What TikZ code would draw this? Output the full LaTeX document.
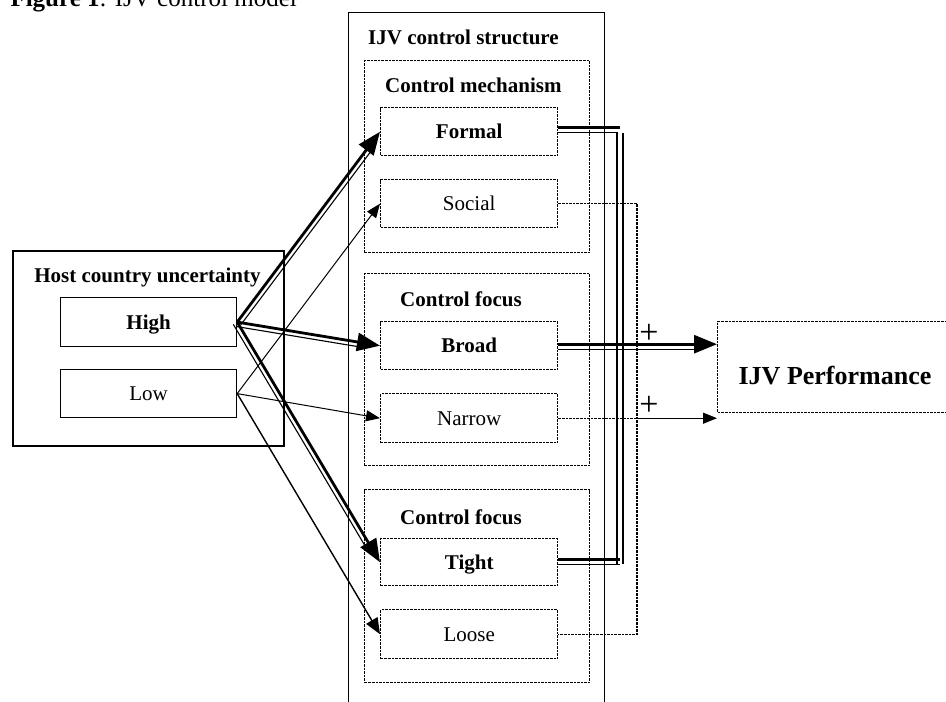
\documentclass[tikz,border=0pt]{standalone}
\usepackage{fontspec}
\setmainfont{Liberation Serif}
\usetikzlibrary{arrows.meta,calc}
\begin{document}
\begin{tikzpicture}[x=1pt,y=-1pt,
  box/.style={draw, line width=1.2pt, rectangle, inner sep=0pt, anchor=north west},
  dbox/.style={box, line width=1.4pt, dash pattern=on 2.6pt off 1pt},
  txt/.style={font=\fontsize{21}{24}\selectfont, text height=16pt, text depth=2pt},
  btxt/.style={font=\fontsize{21}{24}\selectfont\bfseries, text height=16pt, text depth=2pt},
  lbl/.style={inner sep=0pt, font=\fontsize{21}{24}\selectfont\bfseries},
  bigtip/.style={-{Triangle[length=23pt,width=18pt]}},
  smalltip/.style={-{Triangle[length=14pt,width=11pt]}},
  thickln/.style={line width=2.8pt},
  thinln/.style={line width=1.1pt},
  dln/.style={line width=1.4pt, dash pattern=on 2.6pt off 1pt}
]
\useasboundingbox (0,0) rectangle (946,702);
\clip (0,0) rectangle (946,702);

% title
\node[anchor=base east, inner sep=0pt, font=\fontsize{25}{28}\selectfont] (title) at (297,6) {\textbf{Figure 1}: IJV control model};

% IJV control structure
\node[box, minimum width=256pt, minimum height=730pt] (outer) at (348,12) {};
\node[lbl, anchor=base west] (outerl) at (368,44) {IJV control structure};

\node[dbox, minimum width=225pt, minimum height=192pt] (mech) at (364,60) {};
\node[lbl, anchor=base west] (mechl) at (385,92) {Control mechanism};
\node[dbox, btxt, minimum width=177pt, minimum height=48pt] (formal) at (380,107) {Formal};
\node[dbox, txt, minimum width=177pt, minimum height=48pt] (social) at (380,179) {Social};

\node[dbox, minimum width=225pt, minimum height=192pt] (focusA) at (364,273) {};
\node[lbl, anchor=base west] (focusAl) at (400,306) {Control focus};
\node[dbox, btxt, minimum width=177pt, minimum height=48pt] (broad) at (380,321) {Broad};
\node[dbox, txt, minimum width=177pt, minimum height=49pt] (narrow) at (380,393) {Narrow};

\node[dbox, minimum width=225pt, minimum height=193pt] (focusB) at (364,489) {};
\node[lbl, anchor=base west] (focusBl) at (400,524) {Control focus};
\node[dbox, btxt, minimum width=177pt, minimum height=47pt] (tight) at (380,538) {Tight};
\node[dbox, txt, minimum width=177pt, minimum height=49pt] (loose) at (380,609) {Loose};

% host country uncertainty
\node[box, line width=1.5pt, minimum width=271pt, minimum height=195pt] (host) at (12,250) {};
\node[lbl, anchor=base] (hostl) at (147.5,282) {Host country uncertainty};
\node[box, btxt, minimum width=176pt, minimum height=49pt] (high) at (60,297) {High};
\node[box, txt, minimum width=176pt, minimum height=48pt] (low) at (60,369) {Low};

% performance
\node[dbox, minimum width=260pt, minimum height=91pt] (perf) at (717,321) {};
\node[inner sep=0pt, font=\fontsize{26}{30}\selectfont\bfseries] (perfl) at (835,376) {IJV Performance};

% High -> double arrows
\foreach \t in {formal,broad,tight}{
  \draw[thickln, bigtip] (high.east) -- (\t.west);
  \draw[thinln, shorten >=18pt] ($(high.east)!4.5pt!-90:(\t.west)$) -- ($(\t.west)!4.5pt!90:(high.east)$);
}

% Low -> thin arrows
\draw[line width=1pt, smalltip] (low.east) -- (social.west);
\draw[line width=1pt, smalltip] (low.east) -- (narrow.west);
\draw[line width=1.4pt, -{Triangle[length=16pt,width=13pt]}] (low.east) -- (loose.west);

% right side bus
\coordinate (busL) at (617,0);
\coordinate (busR) at (623,0);
\coordinate (dashx) at (637,0);

\draw[thickln] ($(formal.east)+(0,-4)$) -- ($(formal.east -| busR)+(-3,-4)$);
\draw[thinln] ($(formal.east)+(0,1)$) -- ($(formal.east -| busL)+(1,1)$);
\draw[thickln] ($(tight.east)+(0,-2.5)$) -- ($(tight.east -| busR)+(-3,-2.5)$);
\draw[thinln] ($(tight.east)+(0,2.5)$) -- ($(tight.east -| busR)+(-3,2.5)$);
\draw[thinln] ($(formal.east -| busL)+(0,1)$) -- ($(tight.east -| busL)+(0,2.5)$);
\draw[thinln] ($(formal.east -| busR)+(0,1)$) -- ($(tight.east -| busR)+(0,2)$);

\draw[thickln, bigtip] ($(broad.east)+(0,-1.5)$) -- ($(broad.east -| perf.west)+(0,-1.5)$);
\draw[thinln, shorten >=18pt] ($(broad.east)+(0,3.5)$) -- ($(broad.east -| perf.west)+(0,3.5)$);

% dashed connectors
\draw[dln] (social.east) -- (social.east -| dashx) -- (loose.east -| dashx) -- (loose.east);
\draw[dln] (narrow.east) -- (narrow.east -| dashx);
\draw[line width=1.1pt, smalltip] (narrow.east -| dashx) -- (narrow.east -| perf.west);

% plus signs
\node[inner sep=0pt, font=\fontsize{34}{34}\selectfont] (plusA) at (649,334) {+};
\node[inner sep=0pt, font=\fontsize{34}{34}\selectfont] (plusB) at (649,406) {+};
\end{tikzpicture}
\end{document}
